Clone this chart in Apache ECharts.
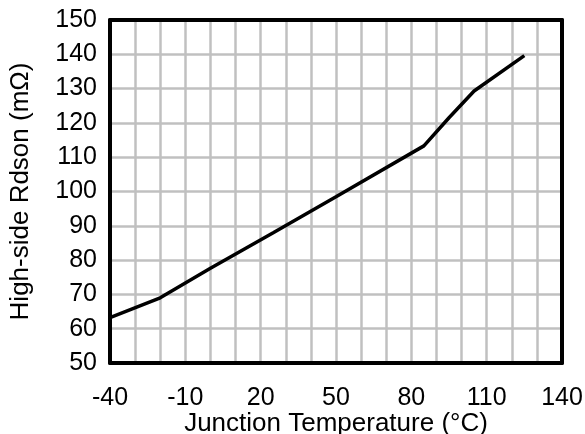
<!DOCTYPE html>
<html>
<head>
<meta charset="utf-8">
<script src="https://cdn.jsdelivr.net/npm/echarts@6/dist/echarts.min.js"></script>
<style>html,body{margin:0;padding:0;background:#fff;}#c{width:585px;height:434px;}</style>
</head>
<body>
<div id="c"></div>
<script>
const temps = [-40, -20, 0, 25, 50, 85, 95, 105, 125];
const rdson = [63.2, 69.0, 77.6, 88.0, 98.5, 113.3, 121.5, 129.3, 139.6];
const xTickLabels = [-40, -10, 20, 50, 80, 110, 140];
const yTickLabels = [50, 60, 70, 80, 90, 100, 110, 120, 130, 140, 150];

const font = 'Liberation Sans, Arial, sans-serif';
const chart = echarts.init(document.getElementById('c'));
const edge = {show: true, onZero: false, lineStyle: {color: '#000', width: 4}};
chart.setOption({
  animation: false,
  backgroundColor: '#fff',
  grid: {left: 110, right: 23, top: 20, bottom: 71, containLabel: false, outerBoundsMode: 'none'},
  xAxis: [{
    type: 'value', min: -40, max: 140, interval: 10,
    name: 'Junction Temperature (°C)', nameLocation: 'middle', nameGap: 48, nameMoveOverlap: false,
    nameTextStyle: {color: '#000', fontSize: 26, fontFamily: font},
    axisLine: edge, axisTick: {show: false},
    axisLabel: {color: '#000', fontSize: 25, fontFamily: font, margin: 23,
      formatter: v => xTickLabels.includes(v) ? String(v) : ''},
    splitLine: {show: true, lineStyle: {color: '#c0c0c0', width: 2.5}}
  }, {
    type: 'value', position: 'top', min: -40, max: 140,
    axisLine: edge, axisTick: {show: false}, axisLabel: {show: false}, splitLine: {show: false}
  }],
  yAxis: [{
    type: 'value', min: 50, max: 150, interval: 10,
    name: 'High-side Rdson (mΩ)', nameLocation: 'middle', nameGap: 76, nameMoveOverlap: false,
    nameTextStyle: {color: '#000', fontSize: 26, fontFamily: font},
    axisLine: edge, axisTick: {show: false},
    axisLabel: {color: '#000', fontSize: 25, fontFamily: font, margin: 13,
      formatter: v => yTickLabels.includes(v) ? String(v) : ''},
    splitLine: {show: true, lineStyle: {color: '#c0c0c0', width: 2.5}}
  }, {
    type: 'value', position: 'right', min: 50, max: 150,
    axisLine: edge, axisTick: {show: false}, axisLabel: {show: false}, splitLine: {show: false}
  }],
  series: [{
    type: 'line',
    data: temps.map((t, i) => [t, rdson[i]]),
    showSymbol: false,
    lineStyle: {color: '#000', width: 3.5},
    z: 5
  }]
});
</script>
</body>
</html>
